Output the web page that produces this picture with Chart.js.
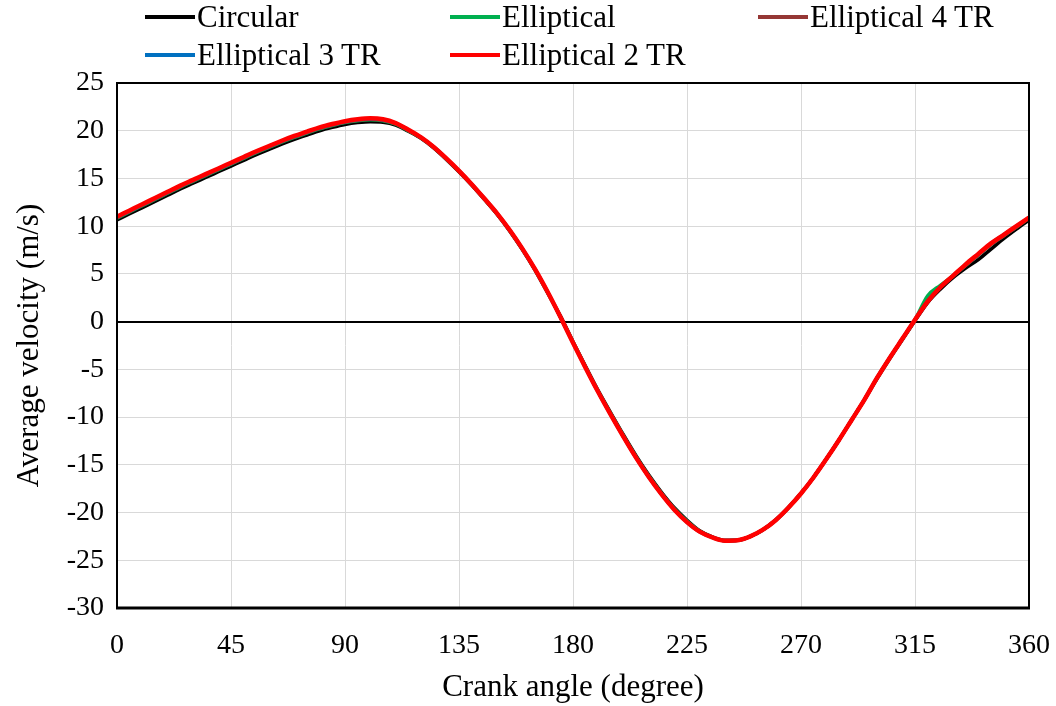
<!DOCTYPE html>
<html>
<head>
<meta charset="utf-8">
<script src="https://cdn.jsdelivr.net/npm/chart.js@4"></script>
<style>
  body { margin: 0; background: #fff; }
  #wrap { position: relative; width: 1056px; height: 706px; }
  #legend { position: absolute; left: 0; top: 0; width: 1056px; height: 80px;
            font-family: "Liberation Serif", "Times New Roman", serif; font-size: 31px; color: #000; }
  .item { position: absolute; display: flex; align-items: center; white-space: nowrap; line-height: 36px; }
  .swatch { display: inline-block; width: 50px; height: 4px; margin-right: 2px; }
</style>
</head>
<body>
<div id="wrap">
  <canvas id="chart" width="1056" height="706"></canvas>
  <div id="legend"></div>
</div>
<script>
const angle = [0, 5, 10, 15, 20, 25, 30, 35, 40, 45, 50, 55, 60, 65, 70, 75, 80, 85, 90, 95,
  100, 105, 110, 115, 120, 125, 130, 135, 140, 145, 150, 155, 160, 165, 170, 175, 180, 185, 190, 195,
  200, 205, 210, 215, 220, 225, 230, 235, 240, 245, 250, 255, 260, 265, 270, 275, 280, 285, 290, 295,
  300, 305, 310, 315, 320, 325, 330, 335, 340, 345, 350, 355, 360]

const circular = [10.65, 11.3, 11.95, 12.6, 13.25, 13.9, 14.5, 15.1, 15.7, 16.3, 16.9, 17.5, 18.05, 18.6, 19.1, 19.55, 20.0, 20.35, 20.65, 20.85,
  20.95, 20.9, 20.6, 19.95, 19.2, 18.2, 17.0, 15.7, 14.3, 12.8, 11.25, 9.5, 7.55, 5.4, 3.0, 0.6, -2.1, -4.7, -7.25, -9.6,
  -11.9, -14.1, -16.1, -17.9, -19.5, -20.8, -21.9, -22.55, -22.9, -22.9, -22.5, -21.8, -20.8, -19.5, -18.0, -16.3, -14.4, -12.4, -10.3, -8.2,
  -6.0, -3.9, -1.9, 0.1, 2.0, 3.4, 4.6, 5.6, 6.5, 7.6, 8.7, 9.7, 10.65]

const elliptical = [10.85, 11.5, 12.15, 12.8, 13.45, 14.1, 14.7, 15.3, 15.9, 16.5, 17.1, 17.7, 18.25, 18.8, 19.3, 19.75, 20.2, 20.55, 20.85, 21.05,
  21.15, 21.05, 20.7, 20.0, 19.25, 18.25, 17.05, 15.75, 14.35, 12.85, 11.3, 9.55, 7.6, 5.45, 3.05, 0.5, -2.15, -4.8, -7.35, -9.7,
  -12.0, -14.2, -16.2, -18.0, -19.6, -20.9, -21.95, -22.6, -22.95, -22.9, -22.5, -21.8, -20.8, -19.5, -18.0, -16.3, -14.4, -12.4, -10.3, -8.2,
  -5.9, -3.8, -1.8, 0.2, 2.7, 3.8, 4.8, 5.9, 7.0, 8.1, 9.0, 9.9, 10.85]

const elliptical4 = [10.9, 11.55, 12.2, 12.85, 13.5, 14.15, 14.75, 15.35, 15.95, 16.55, 17.15, 17.75, 18.3, 18.85, 19.35, 19.8, 20.25, 20.6, 20.9, 21.1,
  21.2, 21.1, 20.75, 20.05, 19.3, 18.3, 17.1, 15.8, 14.4, 12.9, 11.35, 9.6, 7.65, 5.5, 3.1, 0.5, -2.2, -4.85, -7.4, -9.8,
  -12.1, -14.3, -16.3, -18.1, -19.7, -21.0, -22.0, -22.6, -22.95, -22.9, -22.5, -21.8, -20.8, -19.5, -18.0, -16.3, -14.4, -12.4, -10.3, -8.2,
  -5.9, -3.8, -1.8, 0.2, 2.2, 3.6, 4.8, 5.9, 7.0, 8.1, 9.0, 9.9, 10.9]

const elliptical3 = [10.95, 11.6, 12.25, 12.9, 13.55, 14.2, 14.8, 15.4, 16.0, 16.6, 17.2, 17.8, 18.35, 18.9, 19.4, 19.85, 20.3, 20.65, 20.95, 21.15,
  21.25, 21.15, 20.8, 20.1, 19.3, 18.3, 17.1, 15.8, 14.4, 12.9, 11.35, 9.6, 7.65, 5.5, 3.1, 0.5, -2.2, -4.85, -7.4, -9.8,
  -12.1, -14.3, -16.3, -18.1, -19.7, -21.0, -22.0, -22.6, -22.95, -22.9, -22.5, -21.8, -20.8, -19.5, -18.0, -16.3, -14.4, -12.4, -10.3, -8.2,
  -5.9, -3.8, -1.8, 0.2, 2.1, 3.6, 4.8, 6.0, 7.1, 8.2, 9.1, 10.0, 10.9]

const elliptical2 = [11.0, 11.65, 12.3, 12.95, 13.6, 14.25, 14.85, 15.45, 16.05, 16.65, 17.25, 17.85, 18.4, 18.95, 19.45, 19.9, 20.35, 20.7, 21.0, 21.2,
  21.3, 21.2, 20.8, 20.1, 19.3, 18.3, 17.1, 15.8, 14.4, 12.9, 11.35, 9.6, 7.65, 5.5, 3.1, 0.5, -2.2, -4.85, -7.4, -9.8,
  -12.1, -14.3, -16.3, -18.1, -19.7, -21.0, -22.0, -22.6, -22.95, -22.9, -22.5, -21.8, -20.8, -19.5, -18.0, -16.3, -14.4, -12.4, -10.3, -8.2,
  -5.9, -3.8, -1.8, 0.2, 2.1, 3.6, 4.8, 6.0, 7.1, 8.2, 9.1, 10.0, 10.9]

const seriesNames = ['Circular', 'Elliptical', 'Elliptical 4 TR', 'Elliptical 3 TR', 'Elliptical 2 TR']
const seriesColors = ['#000000', '#00b050', '#953735', '#0070c0', '#ff0000']
const seriesValues = [circular, elliptical, elliptical4, elliptical3, elliptical2]

const serif = '"Liberation Serif", "Times New Roman", serif'

// frame round the plot area, like the excel chart
const frame = {
  id: 'frame',
  afterDatasetsDraw(chart) {
    const a = chart.chartArea
    const ctx = chart.ctx
    ctx.save()
    ctx.strokeStyle = '#000'
    ctx.lineWidth = 2
    ctx.strokeRect(a.left, a.top, a.right - a.left, a.bottom - a.top)
    ctx.lineWidth = 3
    ctx.beginPath()
    ctx.moveTo(a.left - 1, a.bottom)
    ctx.lineTo(a.right + 1, a.bottom)
    ctx.stroke()
    ctx.restore()
  }
}

const chart = new Chart(document.getElementById('chart').getContext('2d'), {
  type: 'line',
  data: {
    datasets: seriesNames.map((name, i) => ({
      label: name,
      data: angle.map((a, j) => ({ x: a, y: seriesValues[i][j] })),
      borderColor: seriesColors[i],
      backgroundColor: seriesColors[i],
      borderWidth: i === 4 ? 4.5 : 3.5,
      pointRadius: 0,
      cubicInterpolationMode: 'monotone',
      order: 4 - i
    }))
  },
  options: {
    responsive: false,
    animation: false,
    layout: { padding: { top: 83, right: 27, left: 0, bottom: 0 } },
    plugins: {
      legend: { display: false },
      tooltip: { enabled: false }
    },
    scales: {
      x: {
        type: 'linear',
        min: 0,
        max: 360,
        afterFit: s => { s.height = 98; s.paddingLeft = 0; s.paddingRight = 0 },
        ticks: { stepSize: 45, color: '#000', padding: 21, font: { family: serif, size: 28 } },
        grid: { color: '#d9d9d9', lineWidth: 1, drawTicks: false },
        border: { display: false },
        title: { display: true, text: 'Crank angle (degree)', color: '#000', padding: { top: 0, bottom: 0 }, font: { family: serif, size: 31 } }
      },
      y: {
        min: -30,
        max: 25,
        afterFit: s => { s.width = 117; s.paddingTop = 0; s.paddingBottom = 0 },
        ticks: { stepSize: 5, color: '#000', padding: 13, font: { family: serif, size: 28 } },
        grid: {
          drawTicks: false,
          color: c => c.tick && c.tick.value === 0 ? '#000' : '#d9d9d9',
          lineWidth: c => c.tick && c.tick.value === 0 ? 2 : 1
        },
        border: { display: false },
        title: { display: true, text: 'Average velocity (m/s)', color: '#000', padding: { top: 11, bottom: 0 }, font: { family: serif, size: 31 } }
      }
    }
  },
  plugins: [frame]
})

// html legend in three columns
const legendPos = [[145, 17], [450, 17], [758, 17], [145, 55], [450, 55]]
const legend = document.getElementById('legend')
chart.data.datasets.forEach((ds, i) => {
  const item = document.createElement('div')
  item.className = 'item'
  item.style.left = legendPos[i][0] + 'px'
  item.style.top = (legendPos[i][1] - 18) + 'px'
  const sw = document.createElement('span')
  sw.className = 'swatch'
  sw.style.background = ds.borderColor
  item.appendChild(sw)
  item.appendChild(document.createTextNode(ds.label))
  legend.appendChild(item)
})
</script>
</body>
</html>
